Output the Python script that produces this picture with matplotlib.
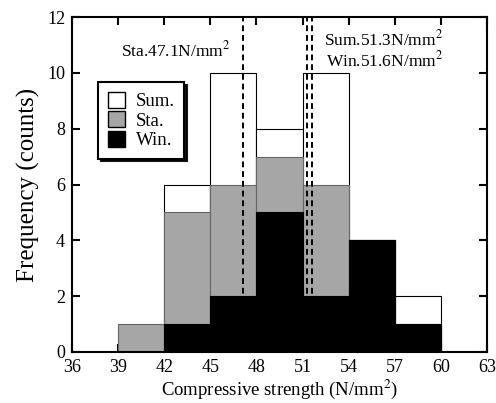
import matplotlib
matplotlib.use("Agg")
import matplotlib.pyplot as plt
import numpy as np

plt.rcParams["font.family"] = ["Liberation Serif", "DejaVu Serif"]
plt.rcParams["mathtext.fontset"] = "stix"

# bin left edges (N/mm2), width 3
bin_left = [39, 42, 45, 48, 51, 54, 57]
sum_counts = [0, 6, 10, 8, 10, 4, 2]
sta_counts = [1, 5, 6, 7, 6, 4, 1]
win_counts = [0, 1, 2, 5, 2, 4, 1]
bin_width = 3

mean_sta = 47.1
mean_sum = 51.3
mean_win = 51.6

x_ticks = [36, 39, 42, 45, 48, 51, 54, 57, 60, 63]
y_ticks = [0, 2, 4, 6, 8, 10, 12]

fig = plt.figure(figsize=(4.96, 4.03), dpi=100)
ax = fig.add_axes([72 / 496, 1 - 352 / 403, 415 / 496, 335 / 403])

ax.bar(bin_left, sum_counts, width=bin_width, align="edge", color="white",
       edgecolor="black", linewidth=0.8, zorder=1, label="Sum.")
ax.bar(bin_left, sta_counts, width=bin_width, align="edge", color="#a6a6a6",
       edgecolor="#666666", linewidth=0.8, zorder=2, label="Sta.")
for m in (mean_sta, mean_sum, mean_win):
    ax.axvline(m, color="black", linestyle=(0, (3, 2)), linewidth=1.4, zorder=3)
ax.bar(bin_left, win_counts, width=bin_width, align="edge", color="black",
       edgecolor="black", linewidth=0.8, zorder=4, label="Win.")

ax.text(42.75, 10.82, r"Sta.47.1N/mm$^2$", ha="center", va="center", fontsize=12.5, zorder=5)
ax.text(56.25, 11.18, r"Sum.51.3N/mm$^2$", ha="center", va="center", fontsize=12.5, zorder=5)
ax.text(56.35, 10.45, r"Win.51.6N/mm$^2$", ha="center", va="center", fontsize=12.5, zorder=5)

ax.set_xlim(36, 63)
ax.set_ylim(0, 12)
ax.set_xticks(x_ticks)
ax.set_yticks(y_ticks)
ax.tick_params(direction="in", length=6, width=1.5, top=True, right=True,
               labelsize=13, pad=5)
for s in ax.spines.values():
    s.set_linewidth(1.5)

ax.set_xlabel(r"Compressive strength (N/mm$^2$)", fontsize=13.5, labelpad=1)
ax.set_ylabel("Frequency (counts)", fontsize=18, labelpad=5)

leg = ax.legend(loc="upper left", bbox_to_anchor=(0.063, 0.805), frameon=True,
                fancybox=False, shadow={"color": "black", "alpha": 0.9},
                fontsize=13.5, handlelength=0.95, handleheight=0.95,
                handletextpad=0.55, labelspacing=0.05, borderpad=0.5,
                borderaxespad=0)
leg.get_frame().set_edgecolor("black")
leg.get_frame().set_linewidth(1.5)
for h in leg.legend_handles:
    h.set_edgecolor("black")
    h.set_linewidth(1.0)
leg.set_zorder(6)

fig.savefig("out.png", dpi=100)
